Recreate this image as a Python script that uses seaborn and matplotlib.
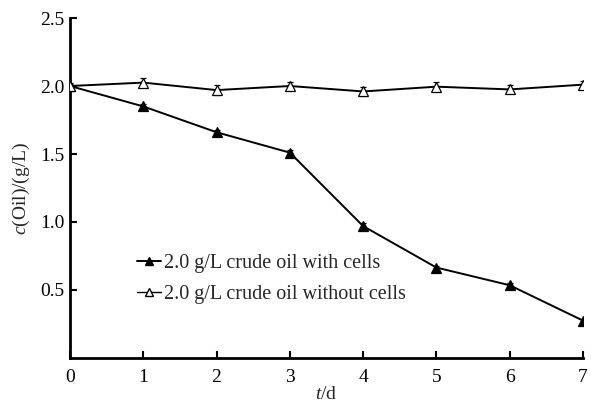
import numpy as np
import pandas as pd
import matplotlib
matplotlib.use("Agg")
import matplotlib.pyplot as plt
import seaborn as sns
from matplotlib.lines import Line2D

days = [0, 1, 2, 3, 4, 5, 6, 7]
with_cells = [2.0, 1.85, 1.66, 1.51, 0.97, 0.665, 0.535, 0.275]
with_cells_err = [0.015, 0.02, 0.02, 0.02, 0.02, 0.015, 0.02, 0.015]
without_cells = [2.0, 2.025, 1.97, 2.0, 1.96, 1.995, 1.975, 2.01]
without_cells_err = [0.02, 0.035, 0.035, 0.03, 0.03, 0.035, 0.03, 0.03]
labels = ["2.0 g/L crude oil with cells", "2.0 g/L crude oil without cells"]

sns.set_theme(style="ticks")
plt.rcParams["font.family"] = ["Liberation Serif", "DejaVu Serif"]
plt.rcParams["mathtext.fontset"] = "custom"
plt.rcParams["mathtext.it"] = "Liberation Serif:italic"
plt.rcParams["mathtext.rm"] = "Liberation Serif"

df = pd.DataFrame({
    "day": days * 2,
    "conc": with_cells + without_cells,
    "series": [labels[0]] * len(days) + [labels[1]] * len(days),
})

fig = plt.figure(figsize=(5.91, 4.03), dpi=100)
ax = fig.add_axes([0.1184, 0.1117, 0.868, 0.8436])

for vals, errs in [(with_cells, with_cells_err), (without_cells, without_cells_err)]:
    ax.errorbar(days, vals, yerr=errs, fmt="none", ecolor="black",
                elinewidth=1.0, capsize=2.5, capthick=1.0, zorder=2)

sns.lineplot(data=df, x="day", y="conc", hue="series", style="series",
             markers={labels[0]: "^", labels[1]: "^"}, dashes=False,
             palette={labels[0]: "black", labels[1]: "black"},
             linewidth=1.4, markersize=6.5, ax=ax, zorder=3, legend=False)

lines = ax.get_lines()
for ln in lines:
    ln.set_markeredgecolor("black")
    ln.set_markeredgewidth(0.9)
lines[-1].set_markerfacecolor("white")
lines[-2].set_markerfacecolor("black")

handles = [Line2D([], [], color="black", lw=1.4, marker="^", markersize=6,
                  markerfacecolor="black", markeredgecolor="black"),
           Line2D([], [], color="black", lw=1.0, marker="^", markersize=6,
                  markerfacecolor="white", markeredgecolor="black")]
ax.legend(handles, labels, loc="upper left", bbox_to_anchor=(0.115, 0.33),
          frameon=False, fontsize=14.5, handlelength=1.2, handletextpad=0.15,
          labelspacing=0.6, borderaxespad=0)

ax.set_xlim(0, 7)
ax.set_ylim(0, 2.5)
ax.set_xticks(days)
ax.set_xticklabels([str(d) for d in days])
ax.set_yticks([0.5, 1.0, 1.5, 2.0, 2.5])
ax.set_yticklabels(["0.5", "1.0", "1.5", "2.0", "2.5"])
ax.tick_params(direction="in", length=5, width=1.5, labelsize=14, colors="black", pad=4)
ax.tick_params(axis="x", pad=8)
for s in ["top", "right"]:
    ax.spines[s].set_visible(False)
for s in ["left", "bottom"]:
    ax.spines[s].set_linewidth(2.0)
    ax.spines[s].set_color("black")
ax.set_xlabel(r"$\mathit{t}$/d", fontsize=14, labelpad=0)
ax.set_ylabel(r"$\mathit{c}$(Oil)/(g/L)", fontsize=14, labelpad=6)

fig.savefig("out.png", dpi=100)
